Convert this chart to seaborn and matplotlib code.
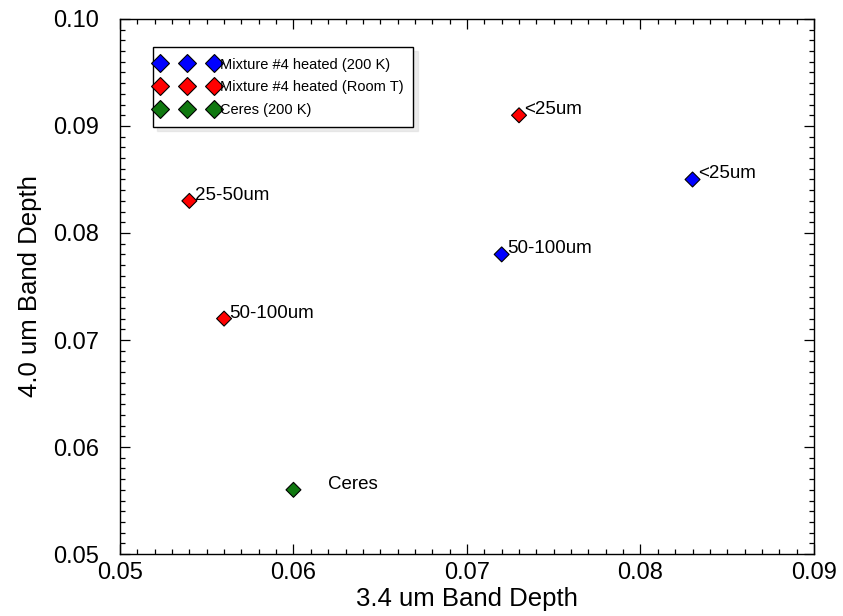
import matplotlib
matplotlib.use("Agg")
import matplotlib.pyplot as plt
from matplotlib.lines import Line2D
from matplotlib.legend_handler import HandlerLine2D
from matplotlib.ticker import MultipleLocator, FormatStrFormatter
import seaborn as sns
import pandas as pd

# Band depth measurements
groups = ["Mixture #4 heated (200 K)", "Mixture #4 heated (200 K)",
          "Mixture #4 heated (Room T)", "Mixture #4 heated (Room T)",
          "Mixture #4 heated (Room T)", "Ceres (200 K)"]
band_34 = [0.083, 0.072, 0.073, 0.054, 0.056, 0.060]
band_40 = [0.085, 0.078, 0.091, 0.083, 0.072, 0.056]
labels = ["<25um", "50-100um", "<25um", "25-50um", "50-100um", "Ceres"]

group_order = ["Mixture #4 heated (200 K)", "Mixture #4 heated (Room T)", "Ceres (200 K)"]
group_colors = ["#0000ff", "#ff0000", "#107810"]

x_ticks = [0.05, 0.06, 0.07, 0.08, 0.09]
y_ticks = [0.05, 0.06, 0.07, 0.08, 0.09, 0.10]

df = pd.DataFrame({"group": groups, "x": band_34, "y": band_40, "label": labels})

sns.set_theme(style="ticks")
plt.rcParams["font.family"] = ["Liberation Sans", "DejaVu Sans"]
plt.rcParams["text.color"] = "black"
plt.rcParams["axes.labelcolor"] = "black"
plt.rcParams["xtick.color"] = "black"
plt.rcParams["ytick.color"] = "black"

fig = plt.figure(figsize=(8.43, 6.16), dpi=100)
ax = fig.add_axes([0.1423, 0.1006, 0.9656 - 0.1423, 0.9692 - 0.1006])

sns.scatterplot(data=df, x="x", y="y", hue="group", hue_order=group_order,
                palette=group_colors, marker="D", s=58, edgecolor="black",
                linewidth=0.8, ax=ax, zorder=3)

for _, row in df.iterrows():
    dx = 25 if row["label"] == "Ceres" else 4
    ax.annotate(row["label"], (row["x"], row["y"]), xytext=(dx, 4),
                textcoords="offset points", ha="left", va="center",
                fontsize=13.5, color="black")

ax.set_xlim(x_ticks[0], x_ticks[-1])
ax.set_ylim(y_ticks[0], y_ticks[-1])
ax.set_xticks(x_ticks)
ax.set_yticks(y_ticks)
ax.xaxis.set_major_formatter(FormatStrFormatter("%.2f"))
ax.yaxis.set_major_formatter(FormatStrFormatter("%.2f"))
ax.xaxis.set_minor_locator(MultipleLocator(0.001))
ax.yaxis.set_minor_locator(MultipleLocator(0.001))
ax.tick_params(which="both", direction="in", top=True, right=True,
               color="black", width=0.9)
ax.tick_params(which="major", length=7, labelsize=17)
ax.tick_params(axis="x", which="major", pad=6)
ax.tick_params(axis="y", which="major", pad=15)
ax.tick_params(which="minor", length=3.5)
for sp in ax.spines.values():
    sp.set_color("black")
    sp.set_linewidth(1.0)

ax.set_xlabel("3.4 um Band Depth", fontsize=18.5, labelpad=2)
ax.set_ylabel("4.0 um Band Depth", fontsize=18.5, labelpad=8)

handles, hl = ax.get_legend_handles_labels()
leg = ax.legend(handles, hl, loc="upper left", bbox_to_anchor=(0.047, 0.947),
                numpoints=3, scatterpoints=3, markerscale=1.15, fontsize=10.5,
                frameon=True, fancybox=False,
                edgecolor="black", framealpha=1, borderpad=0.7,
                handlelength=3.3, handletextpad=0.6, labelspacing=0.6,
                borderaxespad=0, shadow={"color": "0.85", "ox": 3, "oy": -3},
                handler_map={Line2D: HandlerLine2D(marker_pad=-0.2)})
leg.get_frame().set_linewidth(1.0)

fig.savefig("out.png", dpi=100)
